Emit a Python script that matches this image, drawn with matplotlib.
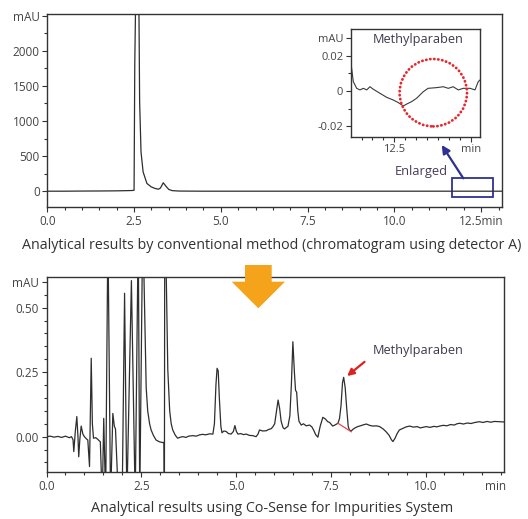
import numpy as np
import matplotlib
matplotlib.use('Agg')
import matplotlib.pyplot as plt
from matplotlib.patches import Rectangle, Ellipse, Polygon
from matplotlib.ticker import MultipleLocator

plt.rcParams['font.family'] = ['Open Sans', 'DejaVu Sans']

# --- conventional method, detector A (min, mAU)
top_t = [0, 0.5, 1.0, 1.5, 2.0, 2.3, 2.45, 2.50, 2.52, 2.55, 2.60, 2.64, 2.66, 2.70,
         2.76, 2.87, 3.0, 3.1, 3.2, 3.26, 3.34, 3.42, 3.5, 3.6, 3.8, 4.5, 6, 8, 10, 12, 13.1]
top_v = [0, 0, 2, 3, 5, 8, 10, 14, 1800, 2900, 2950, 2600, 1270, 560,
         275, 110, 60, 40, 28, 45, 120, 70, 25, 8, 2, 0, 0, 0, 0, 0, 0]

# --- enlarged part around methylparaben (min, mAU)
ins_t = [12.103, 12.124, 12.155, 12.185, 12.216, 12.247, 12.277, 12.307, 12.368, 12.43,
         12.49, 12.537, 12.583, 12.614, 12.66, 12.705, 12.766, 12.81, 12.889, 12.95,
         12.995, 13.04, 13.087, 13.133, 13.195, 13.24, 13.27, 13.286]
ins_v = [0.0157, 0.0053, 0.0015, 0.0006, 0.0015, 0.0006, 0.0024, 0.0010, -0.0013, -0.0036,
         -0.0051, -0.0066, -0.0085, -0.0074, -0.0060, -0.0041, -0.0004, 0.0015, 0.0019, 0.0024,
         0.0015, 0.0024, 0.0006, 0.0015, 0.0015, 0.0006, 0.0053, 0.0062]

# --- Co-Sense for Impurities (min, mAU)
bot_t = [0.00, 0.10, 0.20, 0.30, 0.40, 0.50, 0.60, 0.66, 0.70, 0.72, 0.76, 0.80, 0.83, 0.85,
         0.88, 0.915, 0.96, 1.00, 1.05, 1.09, 1.135, 1.18, 1.21, 1.24, 1.30, 1.35, 1.42, 1.47,
         1.51, 1.56, 1.62, 1.69, 1.75, 1.79, 1.82, 1.90, 2.00, 2.06, 2.12, 2.24, 2.34, 2.42,
         2.46, 2.54, 2.60, 2.63, 2.67, 2.72, 2.76, 2.82, 2.89, 2.98, 3.07, 3.10, 3.11, 3.12,
         3.16, 3.20, 3.25, 3.29, 3.33, 3.40, 3.46, 3.53, 3.60, 3.68, 3.75, 3.86, 3.95, 4.04,
         4.12, 4.20, 4.30, 4.39, 4.43, 4.47, 4.50, 4.53, 4.56, 4.60, 4.63, 4.68, 4.74, 4.80,
         4.87, 4.93, 4.97, 5.01, 5.05, 5.12, 5.20, 5.27, 5.35, 5.44, 5.53, 5.58, 5.62, 5.70,
         5.80, 5.86, 5.93, 5.98, 6.02, 6.07, 6.11, 6.15, 6.19, 6.24, 6.28, 6.33, 6.37, 6.42,
         6.46, 6.50, 6.54, 6.57, 6.60, 6.63, 6.66, 6.72, 6.78, 6.85, 6.94, 7.00, 7.05, 7.10,
         7.16, 7.22, 7.29, 7.36, 7.42, 7.47, 7.55, 7.62, 7.69, 7.73, 7.77, 7.81, 7.84, 7.88,
         7.92, 7.96, 7.99, 8.04, 8.08, 8.14, 8.21, 8.28, 8.36, 8.44, 8.52, 8.61, 8.70, 8.79,
         8.88, 8.96, 9.04, 9.10, 9.14, 9.20, 9.25, 9.31, 9.40, 9.49, 9.58, 9.68, 9.78, 9.86,
         9.93, 10.02, 10.12, 10.22, 10.30, 10.37, 10.47, 10.56, 10.66, 10.76, 10.83, 10.90, 11.00, 11.10,
         11.20, 11.30, 11.42, 11.52, 11.62, 11.72, 11.82, 11.95, 12.07]
bot_v = [0.000, 0.002, -0.002, 0.001, -0.003, 0.002, -0.004, 0.000, -0.012, -0.058, 0.020, 0.078, 0.000, -0.078,
         -0.010, 0.041, 0.010, 0.000, -0.008, -0.013, -0.116, 0.304, 0.050, -0.006, -0.004, -0.010, -0.020, -0.25,
         0.071, -0.25, 0.80, -0.25, 0.090, 0.040, 0.030, -0.25, -0.20, 0.556, -0.25, 0.605, -0.25, 0.80,
         -0.25, 0.85, 0.40, 0.190, 0.100, 0.050, 0.026, 0.005, -0.013, -0.020, -0.023, -0.022, -0.30, 0.90,
         0.62, 0.26, 0.10, 0.050, 0.026, 0.005, -0.006, -0.002, 0.000, -0.003, 0.002, 0.004, 0.002, 0.007,
         0.009, 0.007, 0.011, 0.010, 0.050, 0.200, 0.265, 0.255, 0.150, 0.040, 0.015, 0.022, 0.020, 0.012,
         0.010, 0.020, 0.043, 0.020, 0.010, 0.012, 0.008, 0.010, 0.005, 0.004, 0.000, 0.010, 0.026, 0.022,
         0.023, 0.028, 0.031, 0.040, 0.050, 0.100, 0.142, 0.110, 0.060, 0.035, 0.030, 0.036, 0.040, 0.080,
         0.200, 0.368, 0.250, 0.180, 0.172, 0.100, 0.060, 0.045, 0.050, 0.042, 0.045, 0.038, 0.025, 0.008,
         -0.002, 0.040, 0.075, 0.068, 0.058, 0.055, 0.041, 0.046, 0.052, 0.070, 0.120, 0.210, 0.230, 0.190,
         0.110, 0.040, 0.026, 0.022, 0.028, 0.034, 0.039, 0.042, 0.046, 0.049, 0.044, 0.041, 0.042, 0.039,
         0.030, 0.019, 0.005, -0.012, -0.019, -0.005, 0.012, 0.026, 0.032, 0.038, 0.041, 0.037, 0.039, 0.034,
         0.036, 0.039, 0.036, 0.040, 0.038, 0.041, 0.044, 0.042, 0.047, 0.045, 0.050, 0.052, 0.049, 0.053,
         0.051, 0.055, 0.058, 0.055, 0.059, 0.056, 0.059, 0.058, 0.057]

# methylparaben baseline (drop line under the peak)
mp_base_t = [7.69, 8.04]
mp_base_v = [0.052, 0.019]

W, H = 528, 519
fig = plt.figure(figsize=(W / 100, H / 100), dpi=100)


def fx(px):
    return px / W


def fy(py):
    return 1 - py / H


def style(ax, size=8.5):
    for s in ax.spines.values():
        s.set_color('#333333')
        s.set_linewidth(1.0)
    ax.tick_params(which='both', direction='out', color='#333333', width=0.8,
                   labelcolor='#444444', labelsize=size, pad=2)
    ax.tick_params(which='major', length=3.5)
    ax.tick_params(which='minor', length=2.5)


line_col = '#2e2e2e'

# top panel
ax1 = fig.add_axes([fx(47.3), fy(207), fx(502) - fx(47.3), fy(13.5) - fy(207)])
ax1.plot(top_t, top_v, color=line_col, lw=0.9)
ax1.set_xlim(0, 13.1)
ax1.set_ylim(-225, 2530)
ax1.set_xticks([0, 2.5, 5, 7.5, 10, 12.5])
ax1.set_xticklabels(['0.0', '2.5', '5.0', '7.5', '10.0', '12.5min'])
ax1.xaxis.set_minor_locator(MultipleLocator(0.5))
ax1.set_yticks([0, 500, 1000, 1500, 2000, 2500])
ax1.set_yticklabels(['0', '500', '1000', '1500', '2000', 'mAU'])
ax1.yaxis.set_minor_locator(MultipleLocator(250))
style(ax1)

navy = '#2e3192'
ax1.add_patch(Rectangle((11.66, -78), 1.18, 262, fill=False, edgecolor=navy, lw=1.3, clip_on=False))
ax1.annotate('', xy=(fx(441.7), fy(145)), xycoords='figure fraction',
             xytext=(fx(463.3), fy(178.3)), textcoords='figure fraction',
             arrowprops=dict(arrowstyle='-|>', color=navy, lw=1.6, mutation_scale=12,
                             shrinkA=0, shrinkB=0),
             annotation_clip=False)
fig.text(fx(421.7), fy(171.7), 'Enlarged', ha='center', va='center', fontsize=9.3, color='#4a3a5a')

# inset
ax2 = fig.add_axes([fx(351), fy(136.7), fx(480) - fx(351), fy(29) - fy(136.7)])
ax2.plot(ins_t, ins_v, color='#3a3a3a', lw=0.8)
ax2.set_xlim(12.103, 13.286)
ax2.set_ylim(-0.0259, 0.0351)
ax2.set_xticks([12.5, 13.2])
ax2.set_xticklabels(['12.5', 'min'])
ax2.xaxis.set_minor_locator(MultipleLocator(0.1))
ax2.set_yticks([-0.02, 0, 0.02, 0.03])
ax2.set_yticklabels(['-0.02', '0', '0.02', 'mAU'])
ax2.yaxis.set_minor_locator(MultipleLocator(0.01))
style(ax2, size=8)
ax2.text(0.52, 0.9, 'Methylparaben', transform=ax2.transAxes, ha='center', va='center',
         fontsize=9.2, color='#3b3b4f')

fig.add_artist(Ellipse((fx(433.3), fy(92.7)), 2 * 33.7 / W, 2 * 33.7 / H, transform=fig.transFigure,
                       fill=False, edgecolor='#e8262b', lw=2.0, linestyle=(0, (0.1, 1.35)),
                       capstyle='round', zorder=5))

fig.text(fx(272), fy(245), 'Analytical results by conventional method (chromatogram using detector A)',
         ha='center', va='center', fontsize=10.3, color='#333333')

# bottom panel
ax3 = fig.add_axes([fx(46.5), fy(472), fx(504) - fx(46.5), fy(277) - fy(472)])
ax3.plot(bot_t, bot_v, color=line_col, lw=0.9)
ax3.plot(mp_base_t, mp_base_v, color='#e8464b', lw=0.9)
ax3.set_xlim(0, 12.07)
ax3.set_ylim(-0.137, 0.619)
ax3.set_xticks([0, 2.5, 5, 7.5, 10])
ax3.set_xticklabels(['0.0', '2.5', '5.0', '7.5', '10.0'])
ax3.xaxis.set_minor_locator(MultipleLocator(0.5))
ax3.set_yticks([0, 0.25, 0.5, 0.6])
ax3.set_yticklabels(['0.00', '0.25', '0.50', 'mAU'])
ax3.yaxis.set_minor_locator(MultipleLocator(0.05))
style(ax3)
ax3.annotate('min', xy=(11.84, 0), xycoords=('data', 'axes fraction'), xytext=(0, -5.5),
             textcoords='offset points', ha='center', va='top', fontsize=8.5, color='#444444')

ax3.annotate('', xy=(7.93, 0.235), xytext=(8.39, 0.29),
             arrowprops=dict(arrowstyle='-|>', color='#e02020', lw=1.6, mutation_scale=10,
                             shrinkA=0, shrinkB=0))
ax3.text(9.80, 0.333, 'Methylparaben', ha='center', va='center', fontsize=9.2, color='#3b3b4f')

# orange arrow between the panels
arrow_px = [(245, 265), (271.7, 265), (271.7, 281.7), (285, 281.7), (258.3, 308.3),
            (231.7, 281.7), (245, 281.7)]
fig.add_artist(Polygon([(fx(x), fy(y)) for x, y in arrow_px], closed=True, transform=fig.transFigure,
                       facecolor='#f5a31a', edgecolor='none', zorder=6))

fig.text(fx(272), fy(509), 'Analytical results using Co-Sense for Impurities System',
         ha='center', va='center', fontsize=10.3, color='#333333')

fig.savefig('out.png', dpi=100)
